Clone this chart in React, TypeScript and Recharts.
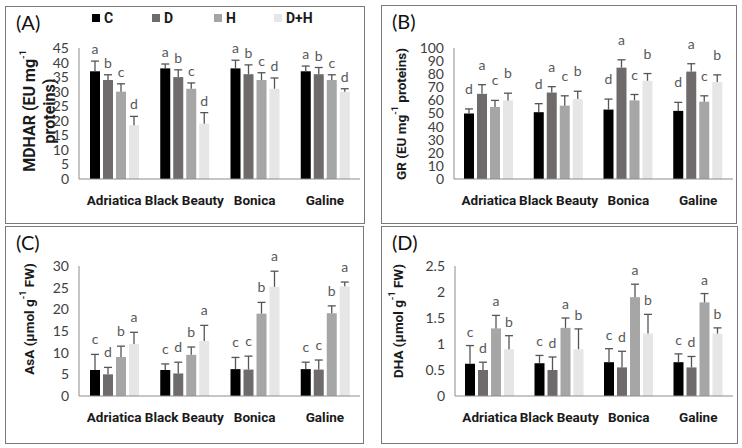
import { Bar, BarChart, XAxis, YAxis } from "recharts";

const cultivars = ["Adriatica", "Black Beauty", "Bonica", "Galine"];
const treatments = ["C", "D", "H", "D+H"];
const treatmentColors = ["#000000", "#6f6b6b", "#a6a6a6", "#e6e6e6"];

// rows = cultivar, columns = C, D, H, D+H
const mdharMeans = [
  [37, 34, 30, 18.5],
  [38, 35, 31, 19],
  [38, 36, 34, 31],
  [37, 36, 34, 30],
];
const mdharErrors = [
  [3.5, 1.8, 2.7, 3],
  [1.5, 2.5, 2, 3.8],
  [2.8, 3.2, 2.5, 3.7],
  [1.8, 2.3, 1.8, 1],
];
const mdharLetters = [
  ["a", "b", "c", "d"],
  ["a", "b", "c", "d"],
  ["a", "b", "c", "d"],
  ["a", "b", "c", "d"],
];
const mdharTicks = [0, 5, 10, 15, 20, 25, 30, 35, 40, 45];

const grMeans = [
  [50, 65, 55, 60],
  [51, 66, 56, 61],
  [53, 85, 60, 75],
  [52, 82, 59, 74],
];
const grErrors = [
  [3.5, 7, 5, 5.5],
  [6.5, 4.5, 7.5, 6],
  [8, 6, 4.5, 5.5],
  [6.5, 6, 4.5, 5.5],
];
const grLetters = [
  ["d", "a", "c", "b"],
  ["d", "a", "c", "b"],
  ["d", "a", "c", "b"],
  ["d", "a", "c", "b"],
];
const grTicks = [0, 10, 20, 30, 40, 50, 60, 70, 80, 90, 100];

const asaMeans = [
  [6, 5, 9, 12],
  [6, 5.2, 9.5, 12.7],
  [6.2, 6.1, 19, 25.2],
  [6.2, 6.1, 19.1, 25.3],
];
const asaErrors = [
  [3.6, 1.6, 2.5, 2.7],
  [1.4, 2.6, 1.8, 3.6],
  [2.7, 3.1, 2.6, 3.6],
  [1.6, 2.2, 1.7, 1],
];
const asaLetters = [
  ["c", "d", "b", "a"],
  ["c", "d", "b", "a"],
  ["c", "c", "b", "a"],
  ["c", "c", "b", "a"],
];
const asaTicks = [0, 5, 10, 15, 20, 25, 30];

const dhaMeans = [
  [0.62, 0.5, 1.3, 0.9],
  [0.63, 0.5, 1.31, 0.9],
  [0.65, 0.55, 1.9, 1.2],
  [0.65, 0.55, 1.8, 1.2],
];
const dhaErrors = [
  [0.35, 0.15, 0.25, 0.26],
  [0.15, 0.25, 0.19, 0.39],
  [0.26, 0.31, 0.25, 0.37],
  [0.16, 0.21, 0.17, 0.11],
];
const dhaLetters = [
  ["c", "d", "a", "b"],
  ["c", "d", "a", "b"],
  ["c", "d", "a", "b"],
  ["c", "d", "a", "b"],
];
const dhaTicks = [0, 0.5, 1, 1.5, 2, 2.5];

const FONT = "Lato, 'Open Sans', sans-serif";
const BOLD = "Roboto, 'Open Sans', sans-serif";
const AXIS = "#8c8c8c";

// bar + upward error "T" + significance letter
function makeShape(k: number, errors: number[][], letters: string[][], lift: number) {
  return (props: any) => {
    const { x, y, width, height, fill, payload } = props;
    const i = payload.idx;
    const v = payload[`s${k}`];
    const e = v > 0 ? (errors[i][k] * height) / v : 0;
    const cx = x + width / 2;
    const top = y - e;
    return (
      <g>
        <rect x={x} y={y} width={width} height={height} fill={fill} />
        <line x1={cx} x2={cx} y1={y} y2={top} stroke="#555" strokeWidth={1.3} />
        <line x1={cx - 4} x2={cx + 4} y1={top} y2={top} stroke="#555" strokeWidth={1.3} />
        <text x={cx} y={top - lift} textAnchor="middle" fontSize={14} fill="#595959" fontFamily={FONT}>
          {letters[i][k]}
        </text>
      </g>
    );
  };
}

// rotated y title; "^" marks a superscript part
function yTitle(lines: string[], x: number, y: number, size: number) {
  return () => (
    <g>
      {lines.map((line, li) => (
        <text
          key={li}
          transform={`translate(${x + (li - (lines.length - 1) / 2) * 20},${y}) rotate(-90)`}
          textAnchor="middle"
          dominantBaseline="central"
          fontFamily={BOLD}
          fontWeight={700}
          fontSize={size}
          fill="#1a1a1a"
        >
          {line.split("^").map((part, pi) =>
            pi % 2 === 1 ? (
              <tspan key={pi} fontSize={9} baselineShift="70%">
                {part}
              </tspan>
            ) : (
              <tspan key={pi}>{part}</tspan>
            ),
          )}
        </text>
      ))}
    </g>
  );
}

interface PanelProps {
  left: number;
  top: number;
  width: number;
  height: number;
  tag: string;
  title: string[];
  titleSize: number;
  titleX: number;
  titleY: number;
  yWidth: number;
  margin: { top: number; right: number; bottom: number; left: number };
  means: number[][];
  errors: number[][];
  letters: string[][];
  ticks: number[];
  lift: number;
  legend?: boolean;
}

function Panel(p: PanelProps) {
  const data = cultivars.map((name, idx) => {
    const row: Record<string, any> = { name, idx };
    treatments.forEach((_, k) => (row[`s${k}`] = p.means[idx][k]));
    return row;
  });
  return (
    <div
      style={{
        position: "absolute",
        left: p.left,
        top: p.top,
        width: p.width,
        height: p.height,
        border: "1.5px solid #7a7a7a",
        boxSizing: "border-box",
        fontFamily: FONT,
        background: "#fff",
      }}
    >
      <div style={{ position: "absolute", left: 2, top: -1 }}>
        <BarChart width={p.width - 3} height={p.height - 3} data={data} margin={p.margin} barGap={3} barSize={10}>
          <XAxis
            dataKey="name"
            tickLine={false}
            axisLine={{ stroke: AXIS }}
            interval={0}
            tickMargin={10}
            height={30}
            tick={{ fontSize: 13.5, fontWeight: 700, fill: "#1a1a1a", fontFamily: BOLD }}
          />
          <YAxis
            domain={[0, p.ticks[p.ticks.length - 1]]}
            ticks={p.ticks}
            interval={0}
            tickLine={false}
            axisLine={{ stroke: AXIS }}
            tickMargin={4}
            width={p.yWidth}
            tick={{ fontSize: 14, fill: "#404040", fontFamily: FONT }}
            label={{ content: yTitle(p.title, p.titleX, p.titleY, p.titleSize) }}
          />
          {treatments.map((t, k) => (
            <Bar
              key={t}
              dataKey={`s${k}`}
              fill={treatmentColors[k]}
              isAnimationActive={false}
              shape={makeShape(k, p.errors, p.letters, p.lift)}
            />
          ))}
        </BarChart>
      </div>
      <div style={{ position: "absolute", left: 10, top: 3, fontSize: 20, lineHeight: "24px", color: "#111" }}>
        {p.tag}
      </div>
      {p.legend &&
        treatments.map((t, k) => (
          <div
            key={t}
            style={{
              position: "absolute",
              left: [86, 146, 208, 268][k],
              top: 2,
              fontFamily: BOLD,
              fontSize: 14,
              fontWeight: 700,
              lineHeight: "18px",
              color: "#1a1a1a",
              display: "flex",
              alignItems: "center",
            }}
          >
            <span style={{ width: 8, height: 8, background: treatmentColors[k], marginRight: 4 }} />
            {t}
          </div>
        ))}
    </div>
  );
}

export default function App() {
  return (
    <div style={{ position: "absolute", left: 0, top: 0, width: 742, height: 448, background: "#fff" }}>
      <Panel
        left={5}
        top={6}
        width={360}
        height={218}
        tag="(A)"
        title={["MDHAR (EU mg^-1", "proteins)"]}
        titleSize={16}
        titleX={31}
        titleY={105}
        yWidth={71}
        margin={{ top: 42, right: 5, bottom: 12, left: 0 }}
        means={mdharMeans}
        errors={mdharErrors}
        letters={mdharLetters}
        ticks={mdharTicks}
        lift={7}
        legend
      />
      <Panel
        left={381}
        top={5}
        width={356}
        height={219}
        tag="(B)"
        title={["GR (EU mg^-1^ proteins)"]}
        titleSize={13.5}
        titleX={17}
        titleY={109}
        yWidth={70}
        margin={{ top: 43, right: 4, bottom: 12, left: 0 }}
        means={grMeans}
        errors={grErrors}
        letters={grLetters}
        ticks={grTicks}
        lift={15}
      />
      <Panel
        left={5}
        top={226}
        width={359}
        height={218}
        tag="(C)"
        title={["AsA (µmol g^-1^ FW)"]}
        titleSize={13.5}
        titleX={21}
        titleY={93}
        yWidth={71}
        margin={{ top: 40, right: 4, bottom: 15, left: 0 }}
        means={asaMeans}
        errors={asaErrors}
        letters={asaLetters}
        ticks={asaTicks}
        lift={10}
      />
      <Panel
        left={381}
        top={226}
        width={357}
        height={218}
        tag="(D)"
        title={["DHA (µmol g^-1^ FW)"]}
        titleSize={13.5}
        titleX={14}
        titleY={95}
        yWidth={71}
        margin={{ top: 40, right: 5, bottom: 15, left: 0 }}
        means={dhaMeans}
        errors={dhaErrors}
        letters={dhaLetters}
        ticks={dhaTicks}
        lift={9}
      />
    </div>
  );
}
